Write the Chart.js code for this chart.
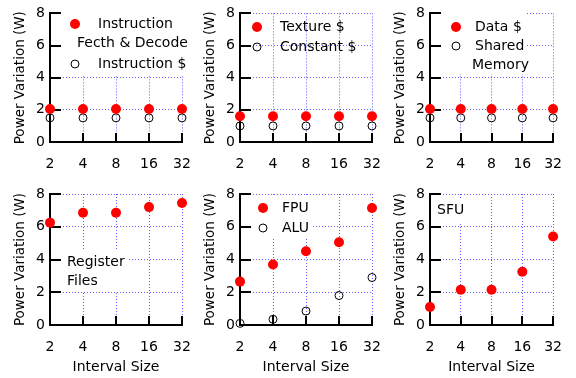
<!DOCTYPE html>
<html>
<head>
<meta charset="utf-8">
<script src="https://cdn.jsdelivr.net/npm/chart.js@4"></script>
<style>
  html, body { margin: 0; padding: 0; background: #fff; }
  #wrap { position: relative; width: 576px; height: 378px; }
  #wrap canvas { position: absolute; left: 0; top: 0; }
</style>
</head>
<body>
<div id="wrap"></div>
<script>
// interval sizes (x categories) and y ticks
const intervals = ["2", "4", "8", "16", "32"];
const yTicks = [0, 2, 4, 6, 8];

// power variation (W) per component
const instFetch   = [2.05, 2.05, 2.05, 2.05, 2.05];
const instCache   = [1.5, 1.5, 1.5, 1.5, 1.5];
const textureCache = [1.6, 1.6, 1.6, 1.6, 1.6];
const constCache  = [1.0, 1.0, 1.0, 1.0, 1.0];
const dataCache   = [2.05, 2.05, 2.05, 2.05, 2.05];
const sharedMem   = [1.5, 1.5, 1.5, 1.5, 1.5];
const regFiles    = [6.25, 6.85, 6.85, 7.2, 7.45];
const fpu         = [2.65, 3.7, 4.5, 5.05, 7.15];
const alu         = [0.1, 0.35, 0.85, 1.8, 2.9];
const sfu         = [1.1, 2.15, 2.15, 3.25, 5.4];

const RED = "#ff0000";
const GRID = "#5c5cff";
const FONT = "'DejaVu Sans', sans-serif";

Chart.defaults.font.family = FONT;
Chart.defaults.color = "#000";

// panel layout: plot area edges, legend/label placement, opaque key boxes
const panels = [
  { left: 50, right: 182, top: 10, bottom: 142, xTitle: false,
    series: [{ values: instFetch, filled: true }, { values: instCache, filled: false }],
    box: [52, 11, 138, 64],
    keys: [{ mark: "filled", mx: 75, y: 24, text: "Instruction", tx: 98 },
           { y: 43, text: "Fecth & Decode", tx: 77 },
           { mark: "open", mx: 75, y: 64, text: "Instruction $", tx: 98 }] },
  { left: 240, right: 372, top: 10, bottom: 142, xTitle: false,
    series: [{ values: textureCache, filled: true }, { values: constCache, filled: false }],
    box: null,
    keys: [{ mark: "filled", mx: 257, y: 27, text: "Texture $", tx: 280 },
           { mark: "open", mx: 257, y: 47, text: "Constant $", tx: 280 }] },
  { left: 430, right: 562, top: 10, bottom: 142, xTitle: false,
    series: [{ values: dataCache, filled: true }, { values: sharedMem, filled: false }],
    box: [432, 11, 95, 63],
    keys: [{ mark: "filled", mx: 456, y: 27, text: "Data $", tx: 475 },
           { mark: "open", mx: 456, y: 46, text: "Shared", tx: 475 },
           { y: 65, text: "Memory", tx: 472 }] },
  { left: 50, right: 182, top: 194, bottom: 325, xTitle: true,
    series: [{ values: regFiles, filled: true }],
    box: [62, 251, 66, 40],
    keys: [{ y: 262, text: "Register", tx: 67 },
           { y: 281, text: "Files", tx: 67 }] },
  { left: 240, right: 372, top: 194, bottom: 325, xTitle: true,
    series: [{ values: fpu, filled: true }, { values: alu, filled: false }],
    box: [242, 196, 69, 41],
    keys: [{ mark: "filled", mx: 263, y: 208, text: "FPU", tx: 282 },
           { mark: "open", mx: 263, y: 228, text: "ALU", tx: 282 }] },
  { left: 430, right: 562, top: 194, bottom: 325, xTitle: true,
    series: [{ values: sfu, filled: true }],
    box: [432, 199, 38, 23],
    keys: [{ y: 210, text: "SFU", tx: 437 }] }
];

function drawMark(ctx, kind, x, y){
  ctx.beginPath();
  if (kind === "filled"){
    ctx.arc(x, y, 5, 0, Math.PI * 2);
    ctx.fillStyle = RED;
    ctx.fill();
  } else {
    ctx.arc(x, y, 4, 0, Math.PI * 2);
    ctx.strokeStyle = "#000";
    ctx.lineWidth = 1;
    ctx.stroke();
  }
}

function decoPlugin(p){
  return {
    id: "deco",
    beforeDatasetsDraw(chart){
      const ctx = chart.ctx;
      const xs = chart.scales.x, ys = chart.scales.y;
      const a = chart.chartArea;
      ctx.save();
      if (p.box){
        ctx.fillStyle = "#fff";
        ctx.fillRect(p.box[0], p.box[1], p.box[2], p.box[3]);
      }
      // inward tick marks
      ctx.strokeStyle = "#000";
      ctx.lineWidth = 2;
      ctx.beginPath();
      intervals.forEach((_, i) => {
        const px = Math.round(xs.getPixelForValue(i));
        ctx.moveTo(px, a.bottom);
        ctx.lineTo(px, a.bottom - 9);
      });
      yTicks.forEach(v => {
        const py = Math.round(ys.getPixelForValue(v));
        ctx.moveTo(a.left, py);
        ctx.lineTo(a.left + 11, py);
      });
      ctx.stroke();
      ctx.restore();
    },
    afterDraw(chart){
      const ctx = chart.ctx;
      ctx.save();
      ctx.font = "14px " + FONT;
      ctx.textBaseline = "middle";
      ctx.textAlign = "left";
      for (const k of p.keys){
        if (k.mark) drawMark(ctx, k.mark, k.mx, k.y);
        ctx.fillStyle = "#000";
        ctx.fillText(k.text, k.tx, k.y);
      }
      ctx.restore();
    }
  };
}

function makePanel(p){
  const cv = document.createElement("canvas");
  cv.width = 576;
  cv.height = 378;
  document.getElementById("wrap").appendChild(cv);

  const yw = 42;
  const xh = p.xTitle ? 53 : 30;

  const datasets = p.series.map(s => ({
    data: s.values,
    showLine: false,
    clip: false,
    pointRadius: s.filled ? 5 : 4,
    pointHoverRadius: s.filled ? 5 : 4,
    pointBackgroundColor: s.filled ? RED : "rgba(0,0,0,0)",
    pointBorderColor: s.filled ? RED : "#000",
    pointBorderWidth: s.filled ? 0 : 1
  }));

  new Chart(cv, {
    type: "line",
    data: { labels: intervals, datasets },
    options: {
      responsive: false,
      animation: false,
      events: [],
      layout: { padding: { left: p.left - yw, right: 576 - p.right, top: p.top, bottom: 378 - p.bottom - xh } },
      plugins: { legend: { display: false }, tooltip: { enabled: false } },
      scales: {
        x: {
          type: "category",
          offset: false,
          grid: { color: GRID, lineWidth: 1, drawTicks: false },
          border: { color: "#000", width: 2, dash: [1, 2] },
          ticks: { padding: 14, color: "#000", font: { size: 14 }, maxRotation: 0 },
          title: { display: p.xTitle, text: "Interval Size", color: "#000",
                   font: { size: 14 }, padding: { top: 2, bottom: 2 } },
          afterFit: s => { s.height = xh; }
        },
        y: {
          min: 0,
          max: 8,
          grid: { color: GRID, lineWidth: 1, drawTicks: false },
          border: { color: "#000", width: 2, dash: [1, 2] },
          ticks: { stepSize: 2, padding: 5, color: "#000", font: { size: 14 } },
          title: { display: true, text: "Power Variation (W)", color: "#000",
                   font: { size: 13.5 }, padding: { top: 4, bottom: 4 } },
          afterFit: s => { s.width = yw; }
        }
      }
    },
    plugins: [decoPlugin(p)]
  });
}

panels.forEach(makePanel);
</script>
</body>
</html>
